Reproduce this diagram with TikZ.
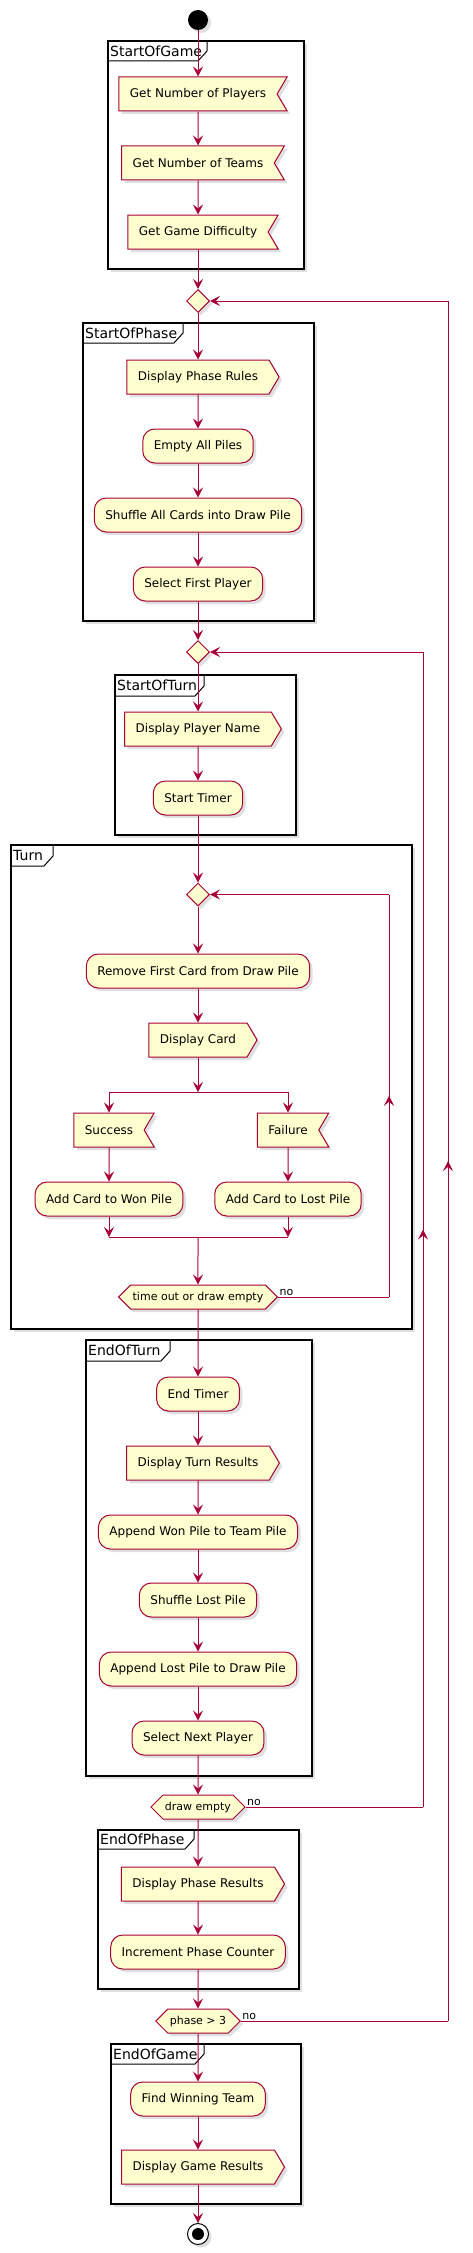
\documentclass[tikz,border=0pt]{standalone}
\usepackage{fontspec}
\setmainfont{DejaVu Sans}
\usetikzlibrary{shapes.geometric, shapes.symbols, arrows.meta, shadows, decorations.markings}
\definecolor{umlred}{HTML}{A80036}
\definecolor{umlfill}{HTML}{FEFECE}
\tikzset{
  shade box/.style={drop shadow={shadow xshift=3pt, shadow yshift=-3pt, opacity=.25}},
  act/.style={draw=umlred, fill=umlfill, line width=1pt, minimum height=34pt, inner xsep=11pt, inner ysep=0pt, font=\fontsize{12}{14}\selectfont, shade box},
  proc/.style={act, rounded corners=12pt},
  send/.style={act, signal, signal to=east, signal pointer angle=119},
  recv/.style={act, signal, signal from=east, signal to=nowhere, signal pointer angle=119},
  cond/.style={act, signal, signal to=east and west, signal pointer angle=90, minimum height=24pt, inner xsep=2pt, font=\fontsize{11}{13}\selectfont},
  merge/.style={diamond, draw=umlred, fill=umlfill, line width=1pt, minimum width=23pt, minimum height=23pt, inner sep=0pt, shade box},
  startdot/.style={circle, fill=black, minimum size=20pt, inner sep=0pt, shade box},
  stopring/.style={circle, draw=black, fill=white, line width=1pt, minimum size=21pt, inner sep=0pt, shade box},
  wire/.style={draw=umlred, line width=1pt},
  flow/.style={wire, -{Stealth[length=10pt, width=10pt, inset=4pt]}},
  uparrow/.style={wire, postaction={decorate}, decoration={markings, mark=at position .5 with {\arrow{Stealth[length=10pt, width=10pt, inset=4pt]}}}},
  grp/.style={draw, line width=1.5pt, fill=white, shade box},
  tab/.style={draw, line width=1pt},
  grptitle/.style={anchor=west, inner sep=2pt, font=\fontsize{14}{16}\selectfont},
  nolabel/.style={above right, inner sep=1pt, font=\fontsize{11}{13}\selectfont}
}
\begin{document}
\begin{tikzpicture}[x=1pt, y=-1pt]
\useasboundingbox (0,0) rectangle (472,2253);
% groups
\foreach \xa/\ya/\xb/\yb/\tx/\ty/\name in {108/41/304/269/207/61/StartOfGame, 83/323/314/621/183/343/StartOfPhase, 115/675/296/835/204/696/StartOfTurn, 11/845/412/1329/53/866/Turn, 86/1340/312/1776/170/1361/EndOfTurn, 98/1830/299/1989/194/1849/EndOfPhase, 111/2044/301/2204/204/2064/EndOfGame} {
    \draw[grp] (\xa,\ya) rectangle (\xb,\yb);
    \draw[tab] (\tx,\ya) -- (\tx,{\ty-10}) -- ({\tx-9},\ty) -- (\xa,\ty);
    \node[grptitle] (title\name) at (\xa,{(\ya+\ty)/2}) {\name};
}
% activities
\node[startdot] (start) at (198,20) {};
\foreach \n/\sty/\x/\y/\lbl in {gp/recv/198/94/Get Number of Players, gt/recv/198/163/Get Number of Teams, gd/recv/198/232/Get Game Difficulty, pr/send/198/377/Display Phase Rules, ep/proc/198/446/Empty All Piles, sc/proc/198/515/Shuffle All Cards into Draw Pile, sf/proc/198/584/Select First Player, pn/send/198/729/Display Player Name, st/proc/198/798/Start Timer, rc/proc/198/971/Remove First Card from Draw Pile, dc/send/198/1040/Display Card, su/recv/109/1130/Success, fa/recv/288/1130/Failure, aw/proc/109/1199/Add Card to Won Pile, al/proc/288/1199/Add Card to Lost Pile, et/proc/198/1394/End Timer, tr/send/198/1463/Display Turn Results, wt/proc/198/1532/Append Won Pile to Team Pile, sl/proc/198/1600/Shuffle Lost Pile, ad/proc/198/1669/Append Lost Pile to Draw Pile, sn/proc/198/1738/Select Next Player, ph/send/198/1884/Display Phase Results, ic/proc/198/1952/Increment Phase Counter, fw/proc/198/2099/Find Winning Team, gr/send/198/2167/Display Game Results} {
    \node[\sty] (\n) at (\x,\y) {\lbl};
}
\node[merge] (m1) at (198,301) {};
\node[merge] (m2) at (198,652) {};
\node[merge] (m3) at (198,894.5) {};
\node[cond] (h1) at (198,1297) {time out or draw empty};
\node[cond] (h2) at (198,1807) {draw empty};
\node[cond] (h3) at (198,2021) {phase > 3};
\node[stopring] (stop) at (198,2234) {};
\fill (stop.center) circle (6pt);
% straight flow
\foreach \a/\b in {start/gp, gp/gt, gt/gd, gd/m1, m1/pr, pr/ep, ep/sc, sc/sf, sf/m2, m2/pn, pn/st, st/m3, m3/rc, rc/dc, su/aw, fa/al, h1/et, et/tr, tr/wt, wt/sl, sl/ad, ad/sn, sn/h2, h2/ph, ph/ic, ic/h3, h3/fw, fw/gr, gr/stop}
    \draw[flow] (\a) -- (\b);
% fork and join
\coordinate (fk) at (198,1092);
\coordinate (fkl) at (109,1092);
\coordinate (fkr) at (288,1092);
\coordinate (jn) at (198,1237);
\coordinate (jnl) at (109,1237);
\coordinate (jnr) at (288,1237);
\draw[flow] (dc) -- (fk);
\draw[wire] (fkl) -- (fkr);
\draw[flow] (fkl) -- (su);
\draw[flow] (fkr) -- (fa);
\draw[flow] (aw) -- (jnl);
\draw[flow] (al) -- (jnr);
\draw[wire] (jnl) -- (jnr);
\draw[flow] (jn) -- (h1);
% loops
\coordinate (l1a) at (389,1297);
\coordinate (l1b) at (389,894.5);
\coordinate (l2a) at (423,1807);
\coordinate (l2b) at (423,652);
\coordinate (l3a) at (448,2021);
\coordinate (l3b) at (448,301);
\draw[wire] (h1.east) -- node[nolabel, pos=0] (no1) {no} (l1a);
\draw[uparrow] (l1a) -- (l1b);
\draw[flow] (l1b) -- (m3.east);
\draw[wire] (h2.east) -- node[nolabel, pos=0] (no2) {no} (l2a);
\draw[uparrow] (l2a) -- (l2b);
\draw[flow] (l2b) -- (m2.east);
\draw[wire] (h3.east) -- node[nolabel, pos=0] (no3) {no} (l3a);
\draw[uparrow] (l3a) -- (l3b);
\draw[flow] (l3b) -- (m1.east);
\end{tikzpicture}
\end{document}
